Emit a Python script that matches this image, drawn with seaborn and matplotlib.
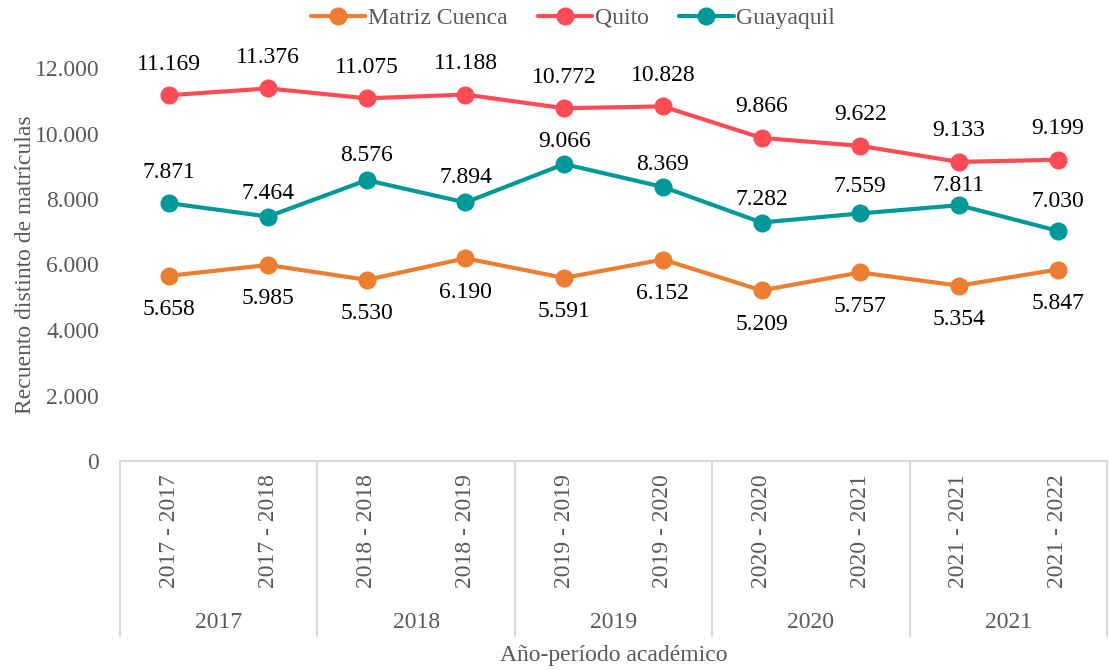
import numpy as np
import pandas as pd
import matplotlib
matplotlib.use("Agg")
import matplotlib.pyplot as plt
import matplotlib.transforms as mtransforms
import seaborn as sns

# Data
periods = ["2017 - 2017", "2017 - 2018", "2018 - 2018", "2018 - 2019", "2019 - 2019",
           "2019 - 2020", "2020 - 2020", "2020 - 2021", "2021 - 2021", "2021 - 2022"]
years = ["2017", "2018", "2019", "2020", "2021"]
matriz_cuenca = [5658, 5985, 5530, 6190, 5591, 6152, 5209, 5757, 5354, 5847]
quito = [11169, 11376, 11075, 11188, 10772, 10828, 9866, 9622, 9133, 9199]
guayaquil = [7871, 7464, 8576, 7894, 9066, 8369, 7282, 7559, 7811, 7030]

series = {"Matriz Cuenca": matriz_cuenca, "Quito": quito, "Guayaquil": guayaquil}
colors = {"Matriz Cuenca": "#ED7D31", "Quito": "#FF4B55", "Guayaquil": "#009999"}

# label offsets (pixels, + is above the point); labels were hand placed in the original
label_dy = {
    "Matriz Cuenca": [-34] * 10,
    "Quito": [31] * 10,
    "Guayaquil": [31, 23, 25, 25, 23, 22, 23, 27, 20, 29],
}

rows = []
for name, vals in series.items():
    for i, v in enumerate(vals):
        rows.append({"pos": i, "periodo": periods[i], "sede": name, "valor": v})
df = pd.DataFrame(rows)

sns.set_theme(style="white")
plt.rcParams["font.family"] = ["Liberation Serif", "DejaVu Serif"]
GREY = "#595959"
LINE = "#D9D9D9"
FS = 17

fig = plt.figure(figsize=(11.09, 6.70), dpi=100)
ax = fig.add_axes([120 / 1109, (670 - 461) / 670, (1107 - 120) / 1109, (461 - 68) / 670])

sns.lineplot(data=df, x="pos", y="valor", hue="sede", palette=colors, marker="o",
             markersize=13, markeredgewidth=0, linewidth=3, ax=ax, sort=False,
             legend=True)

# data labels
for name, vals in series.items():
    for i, v in enumerate(vals):
        ax.annotate(f"{v:,}".replace(",", "."), (i, v), xytext=(0, label_dy[name][i] * 0.72),
                    textcoords="offset points", ha="center", va="center",
                    fontsize=FS, color="black")

ax.set_xlim(-0.5, len(periods) - 0.5)
ax.set_ylim(0, 12000)
ax.set_yticks(range(0, 12001, 2000))
ax.set_yticklabels([f"{t:,}".replace(",", ".") for t in range(0, 12001, 2000)])
ax.tick_params(axis="y", length=0, pad=15, labelsize=FS, labelcolor=GREY)
ax.set_xticks([])
ax.set_xlabel("")
ax.set_ylabel("Recuento distinto de matrículas", fontsize=FS, color=GREY, labelpad=-1)

for s in ["top", "right", "left"]:
    ax.spines[s].set_visible(False)
ax.spines["bottom"].set_color(LINE)
ax.spines["bottom"].set_linewidth(1.5)

# hierarchical x axis
trans = mtransforms.blended_transform_factory(ax.transData, ax.transAxes)
h = 393.0
for b in np.arange(-0.5, len(periods), 2):
    ax.plot([b, b], [0, -175 / h], transform=trans, color=LINE, lw=1.5, clip_on=False)
for i, p in enumerate(periods):
    ax.text(i, -13 / h, p, transform=trans, rotation=90, ha="center", va="top",
            fontsize=FS, color=GREY)
for j, y in enumerate(years):
    ax.text(2 * j + 0.5, -161 / h, y, transform=trans, ha="center", va="center",
            fontsize=FS, color=GREY)
fig.text((120 + 1107) / 2 / 1109, (670 - 655) / 670, "Año-período académico",
         ha="center", va="center", fontsize=FS, color=GREY)

# legend
handles, labels = ax.get_legend_handles_labels()
ax.get_legend().remove()
fig.legend(handles, labels, loc="center", bbox_to_anchor=(573 / 1109, (670 - 18) / 670),
           ncol=3, frameon=False, fontsize=FS, labelcolor=GREY, handlelength=2.3,
           handletextpad=0.1, columnspacing=1.3)

fig.savefig("out.png", dpi=100)
